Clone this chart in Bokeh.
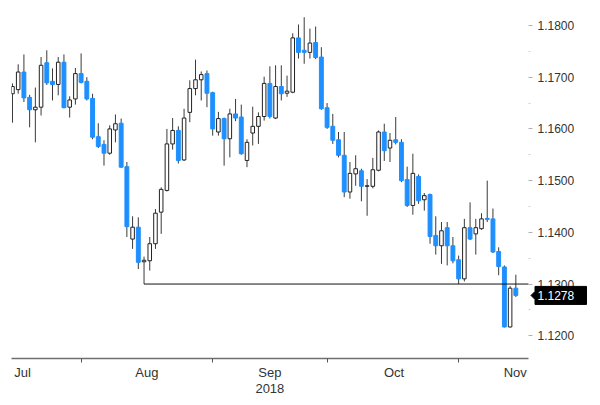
from bokeh.plotting import figure
from bokeh.models import FixedTicker, Range1d, ColumnDataSource, PrintfTickFormatter, LinearAxis
from bokeh.core.properties import value
from bokeh.embed import file_html
from bokeh.resources import INLINE

# EUR/USD daily candles, 13 Jul 2018 - 14 Nov 2018
opens = [1.1668, 1.1676, 1.1710, 1.1661, 1.1637, 1.1642, 1.1728, 1.1692, 1.1686, 1.1729,
         1.1642, 1.1658, 1.1707, 1.1692, 1.1659, 1.1585, 1.1570, 1.1553, 1.1598, 1.1611,
         1.1527, 1.1387, 1.1410, 1.1343, 1.1345, 1.1378, 1.1439, 1.1481, 1.1571, 1.1597,
         1.1540, 1.1632, 1.1678, 1.1695, 1.1707, 1.1670, 1.1594, 1.1620, 1.1581, 1.1629,
         1.1623, 1.1539, 1.1592, 1.1605, 1.1624, 1.1688, 1.1621, 1.1682, 1.1669, 1.1671,
         1.1776, 1.1752, 1.1748, 1.1767, 1.1739, 1.1641, 1.1605, 1.1579, 1.1549, 1.1478,
         1.1513, 1.1519, 1.1489, 1.1489, 1.1520, 1.1594, 1.1563, 1.1579, 1.1574, 1.1502,
         1.1452, 1.1508, 1.1463, 1.1473, 1.1394, 1.1374, 1.1409, 1.1374, 1.1347, 1.1310,
         1.1409, 1.1397, 1.1407, 1.1427, 1.1426, 1.1363, 1.1333, 1.1217, 1.1292]
highs = [1.1688, 1.1725, 1.1744, 1.1666, 1.1680, 1.1739, 1.1752, 1.1717, 1.1739, 1.1744,
         1.1663, 1.1718, 1.1746, 1.1700, 1.1668, 1.1611, 1.1578, 1.1607, 1.1628, 1.1620,
         1.1536, 1.1431, 1.1429, 1.1353, 1.1391, 1.1445, 1.1487, 1.1600, 1.1621, 1.1605,
         1.1639, 1.1694, 1.1734, 1.1711, 1.1713, 1.1672, 1.1633, 1.1622, 1.1639, 1.1658,
         1.1647, 1.1580, 1.1643, 1.1632, 1.1701, 1.1721, 1.1723, 1.1723, 1.1703, 1.1785,
         1.1802, 1.1816, 1.1794, 1.1798, 1.1758, 1.1650, 1.1629, 1.1594, 1.1594, 1.1536,
         1.1549, 1.1523, 1.1503, 1.1544, 1.1597, 1.1610, 1.1592, 1.1623, 1.1580, 1.1527,
         1.1552, 1.1512, 1.1476, 1.1475, 1.1431, 1.1420, 1.1420, 1.1391, 1.1355, 1.1426,
         1.1458, 1.1426, 1.1437, 1.1500, 1.1446, 1.1371, 1.1336, 1.1296, 1.1318]
lows = [1.1612, 1.1668, 1.1652, 1.1603, 1.1574, 1.1626, 1.1685, 1.1655, 1.1665, 1.1640,
        1.1622, 1.1647, 1.1688, 1.1655, 1.1580, 1.1563, 1.1529, 1.1550, 1.1574, 1.1525,
        1.1391, 1.1368, 1.1329, 1.1300, 1.1326, 1.1368, 1.1397, 1.1479, 1.1560, 1.1533,
        1.1538, 1.1613, 1.1665, 1.1655, 1.1642, 1.1587, 1.1587, 1.1529, 1.1545, 1.1615,
        1.1550, 1.1526, 1.1568, 1.1571, 1.1616, 1.1620, 1.1619, 1.1655, 1.1662, 1.1669,
        1.1736, 1.1726, 1.1736, 1.1735, 1.1637, 1.1600, 1.1571, 1.1545, 1.1468, 1.1465,
        1.1490, 1.1460, 1.1432, 1.1485, 1.1518, 1.1538, 1.1536, 1.1570, 1.1497, 1.1449,
        1.1434, 1.1455, 1.1442, 1.1378, 1.1357, 1.1339, 1.1336, 1.1340, 1.1300, 1.1305,
        1.1385, 1.1357, 1.1405, 1.1420, 1.1360, 1.1317, 1.1216, 1.1216, 1.1275]
closes = [1.1682, 1.1710, 1.1660, 1.1637, 1.1642, 1.1723, 1.1689, 1.1686, 1.1729, 1.1641,
          1.1656, 1.1707, 1.1690, 1.1658, 1.1584, 1.1566, 1.1553, 1.1600, 1.1610, 1.1526,
          1.1411, 1.1410, 1.1342, 1.1346, 1.1378, 1.1437, 1.1483, 1.1571, 1.1597, 1.1539,
          1.1621, 1.1678, 1.1695, 1.1705, 1.1669, 1.1600, 1.1620, 1.1581, 1.1629, 1.1621,
          1.1552, 1.1574, 1.1605, 1.1624, 1.1688, 1.1624, 1.1682, 1.1668, 1.1673, 1.1776,
          1.1748, 1.1748, 1.1766, 1.1738, 1.1639, 1.1603, 1.1578, 1.1549, 1.1478, 1.1514,
          1.1523, 1.1489, 1.1490, 1.1521, 1.1594, 1.1558, 1.1578, 1.1574, 1.1500, 1.1452,
          1.1514, 1.1461, 1.1471, 1.1392, 1.1374, 1.1403, 1.1374, 1.1345, 1.1310, 1.1409,
          1.1387, 1.1409, 1.1426, 1.1425, 1.1362, 1.1334, 1.1217, 1.1292, 1.1278]

month_labels = ["Jul", "Aug", "Sep", "Oct", "Nov"]
month_label_pos = [1.75, 23.5, 45.0, 66.7, 87.9]
month_end_idx = [12, 35, 55, 78]
year_label = "2018"
year_label_pos = 45.0
y_ticks = [1.12, 1.13, 1.14, 1.15, 1.16, 1.17, 1.18]
y_minor = [1.115, 1.125, 1.135, 1.145, 1.155, 1.165, 1.175]
support_level = 1.1300
support_start_idx = 23

BLUE = "#1e8fff"
FONT = "Liberation Sans"
TXT = "#333333"

# layout (pixels)
W, H = 600, 405
LEFT, TOP, BOTTOM = 11, 10, 47
PX_PER_BAR = 5.72
AXIS_PX = 517           # length of the drawn time axis
X0 = -0.17
FRAME_W = W - LEFT
FRAME_H = H - TOP - BOTTOM
x_end = X0 + FRAME_W / PX_PER_BAR
axis_end = X0 + AXIS_PX / PX_PER_BAR
y0, y1 = 1.1156, 1.1829
px_per_unit = FRAME_H / (y1 - y0)

n = len(closes)
idx = list(range(n))
up = [c >= o for o, c in zip(opens, closes)]
src_up = ColumnDataSource(dict(
    x=[i for i in idx if up[i]],
    top=[max(opens[i], closes[i]) for i in idx if up[i]],
    bottom=[min(opens[i], closes[i]) for i in idx if up[i]]))
src_dn = ColumnDataSource(dict(
    x=[i for i in idx if not up[i]],
    top=[max(opens[i], closes[i]) for i in idx if not up[i]],
    bottom=[min(opens[i], closes[i]) for i in idx if not up[i]]))
src_w = ColumnDataSource(dict(x=idx, high=highs, low=lows))

p = figure(width=W, height=H, output_backend="svg", toolbar_location=None,
           x_range=Range1d(X0, x_end), y_range=Range1d(y0, y1),
           y_axis_location="right", min_border_left=LEFT, min_border_right=0,
           min_border_top=TOP, min_border_bottom=BOTTOM)
p.outline_line_color = None
p.grid.visible = False
p.background_fill_color = "white"

p.segment(x0="x", y0="high", x1="x", y1="low", source=src_w, line_color="#3a3a3a", line_width=1)
p.vbar(x="x", top="top", bottom="bottom", width=0.68, source=src_dn,
       fill_color=BLUE, line_color=BLUE, line_width=1)
p.vbar(x="x", top="top", bottom="bottom", width=0.62, source=src_up,
       fill_color="white", line_color="#222222", line_width=1)

# support line
p.line(x=[support_start_idx, axis_end], y=[support_level, support_level],
       line_color="#111111", line_width=1)

# x axis (months)
xa = p.xaxis[0]
xa.bounds = (X0, axis_end)
xa.ticker = FixedTicker(ticks=month_label_pos, minor_ticks=month_end_idx)
xa.major_label_overrides = {pos: lab for pos, lab in zip(month_label_pos, month_labels)}
xa.major_tick_line_color = None
xa.major_tick_out = 0
xa.minor_tick_out = 4
xa.minor_tick_in = 0
xa.minor_tick_line_color = "#555555"
xa.axis_line_color = "#707070"
xa.axis_line_width = 1.5
xa.major_label_standoff = 2
xa.major_label_text_font = FONT
xa.major_label_text_font_size = "13px"
xa.major_label_text_color = TXT

# second x axis row (year)
year_axis = LinearAxis(ticker=FixedTicker(ticks=[year_label_pos], minor_ticks=[]),
                       major_label_overrides={year_label_pos: year_label},
                       bounds=(X0, axis_end), axis_line_color=None,
                       major_tick_line_color=None, minor_tick_line_color=None,
                       major_tick_out=0, minor_tick_out=0, major_label_standoff=1,
                       major_label_text_font=FONT, major_label_text_font_size="13px",
                       major_label_text_color=TXT)
p.add_layout(year_axis, "below")

# y axis, drawn at the end of the time axis
ya = p.yaxis[0]
ya.fixed_location = axis_end
ya.ticker = FixedTicker(ticks=y_ticks, minor_ticks=y_minor)
ya.formatter = PrintfTickFormatter(format="%.4f")
ya.axis_line_color = None
ya.major_tick_line_color = "#b0b0b0"
ya.major_tick_out = 4
ya.major_tick_in = 0
ya.minor_tick_line_color = "#d0d0d0"
ya.minor_tick_out = 2
ya.minor_tick_in = 0
ya.major_label_standoff = 5
ya.major_label_text_font = FONT
ya.major_label_text_font_size = "12px"
ya.major_label_text_color = TXT

# last price tag (drawn above the axis labels)
last = closes[-1]
def dx(px):
    return axis_end + px / PX_PER_BAR
def dy(px):
    return last + px / px_per_unit
p.patch(x=[dx(2.5), dx(6.5), dx(6.5), dx(58), dx(58), dx(6.5), dx(6.5)],
        y=[last, dy(4), dy(9), dy(9), dy(-9), dy(-9), dy(-4)],
        fill_color="black", line_color="black", level="overlay")
p.text(x=[dx(9)], y=[last], text=[f"{last:.4f}"], text_color="white",
       text_font=value(FONT), text_font_size="12px", text_baseline="middle",
       text_align="left", level="overlay")

open("out.html", "w").write(file_html(p, INLINE))
